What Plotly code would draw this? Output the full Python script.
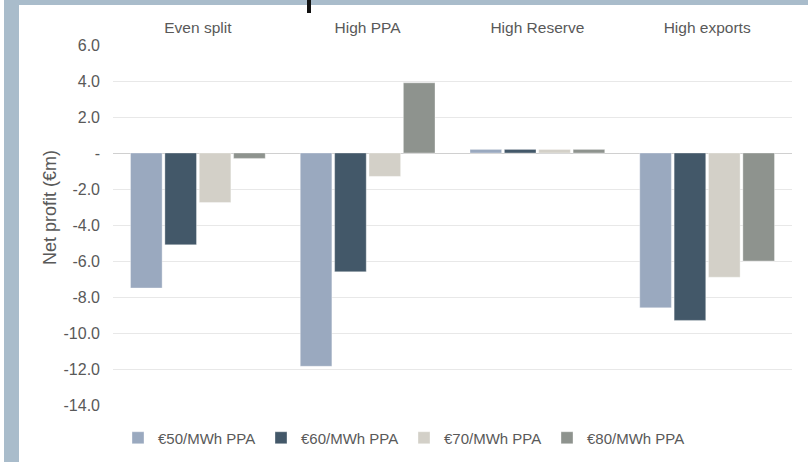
import plotly.graph_objects as go

# Scenario categories and PPA price series (net profit, €m)
categories = ["Even split", "High PPA", "High Reserve", "High exports"]
series_names = ["€50/MWh PPA", "€60/MWh PPA", "€70/MWh PPA", "€80/MWh PPA"]
ppa_50 = [-7.5, -11.85, 0.2, -8.6]
ppa_60 = [-5.1, -6.6, 0.2, -9.3]
ppa_70 = [-2.75, -1.3, 0.2, -6.9]
ppa_80 = [-0.3, 3.9, 0.2, -6.0]
series_values = [ppa_50, ppa_60, ppa_70, ppa_80]
series_colors = ["#9aa9bf", "#435869", "#d3d0c8", "#8e938e"]

tick_values = [6, 4, 2, 0, -2, -4, -6, -8, -10, -12, -14]
tick_labels = ["6.0", "4.0", "2.0", "-", "-2.0", "-4.0", "-6.0", "-8.0", "-10.0", "-12.0", "-14.0"]

FONT = "Liberation Sans, Arial, sans-serif"
TEXT = "#595959"

W, H = 808, 462
L, R, T, B = 113, 792, 45, 405  # plot area in pixels


def px_x(p):
    return (p - L) / (R - L)


def px_y(p):
    return (B - p) / (B - T)


fig = go.Figure()
for name, vals, col in zip(series_names, series_values, series_colors):
    fig.add_trace(go.Bar(
        x=categories, y=vals, name=name,
        marker=dict(color=col, line=dict(color="rgba(255,255,255,0.35)", width=1)),
    ))

# Frame bands along the left and top edges
band = "#a9bccb"
fig.add_shape(type="rect", xref="paper", yref="paper", layer="above",
              x0=px_x(4), x1=px_x(19), y0=px_y(H), y1=px_y(0),
              fillcolor=band, line_width=0)
fig.add_shape(type="rect", xref="paper", yref="paper", layer="above",
              x0=px_x(4), x1=px_x(W), y0=px_y(5), y1=px_y(0),
              fillcolor=band, line_width=0)
fig.add_shape(type="rect", xref="paper", yref="paper", layer="above",
              x0=px_x(307), x1=px_x(311), y0=px_y(13), y1=px_y(0),
              fillcolor="#111111", line_width=0)

fig.add_annotation(text="Net profit (€m)", textangle=-90, showarrow=False,
                   xref="paper", yref="paper", x=px_x(50), y=px_y(208),
                   xanchor="center", yanchor="middle",
                   font=dict(family=FONT, size=18, color=TEXT))

fig.update_layout(
    width=W, height=H,
    margin=dict(l=L, r=W - R, t=T, b=H - B, pad=0, autoexpand=False),
    paper_bgcolor="white", plot_bgcolor="white",
    barmode="group", bargap=0.19, bargroupgap=0.08,
    font=dict(family=FONT, size=15, color=TEXT),
    showlegend=True,
    legend=dict(orientation="h", x=px_x(118), y=px_y(438), xanchor="left", yanchor="middle",
                entrywidth=98, entrywidthmode="pixels",
                font=dict(family=FONT, size=15, color=TEXT), itemwidth=30,
                bgcolor="rgba(0,0,0,0)"),
    xaxis=dict(side="top", showgrid=False, zeroline=False, showline=False, ticks="",
               ticklabelstandoff=8, tickfont=dict(family=FONT, size=15.5, color=TEXT)),
    yaxis=dict(range=[-14, 6], tickvals=tick_values, ticktext=tick_labels,
               showgrid=True, gridcolor="#e8e8e8", gridwidth=1,
               zeroline=True, zerolinecolor="#d0d0d0", zerolinewidth=1,
               showline=False, ticks="", ticklabelstandoff=12,
               tickfont=dict(family=FONT, size=16, color=TEXT)),
)

fig.write_html("out.html")
